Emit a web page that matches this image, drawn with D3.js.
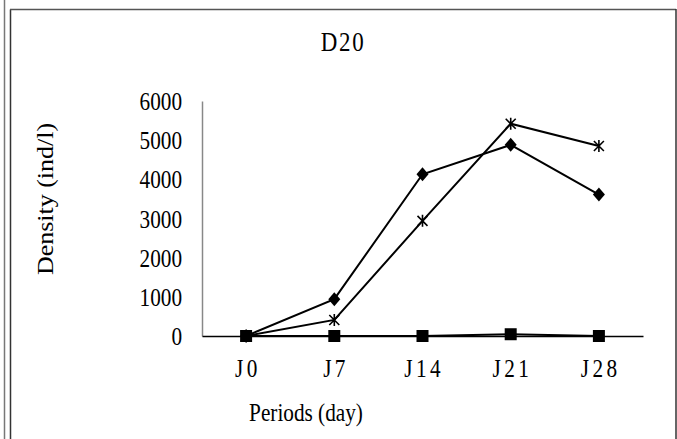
<!DOCTYPE html>
<html>
<head>
<meta charset="utf-8">
<script src="https://cdn.jsdelivr.net/npm/d3@7"></script>
<style>
  body { margin: 0; background: #fff; }
</style>
</head>
<body>
<div id="chart"></div>
<script>
const periods = ["J0", "J7", "J14", "J21", "J28"];
const diamondValues = [0, 940, 4130, 4880, 3610];
const starValues = [0, 410, 2940, 5420, 4850];
const squareValues = [0, 0, 0, 45, 0];
const yTicks = [0, 1000, 2000, 3000, 4000, 5000, 6000];

const chartWidth = 677, chartHeight = 439;
const plotLeft = 202, plotRight = 643, plotTop = 101, plotBottom = 336;
const serif = "'Liberation Serif', 'Times New Roman', 'DejaVu Serif', serif";
const squeeze = 0.85; // the source picture is narrowed horizontally

var svg = d3.select("#chart").append("svg")
    .attr("width", chartWidth)
    .attr("height", chartHeight);

// frame lines
svg.append("line").attr("x1", 4.5).attr("y1", 0).attr("x2", 4.5).attr("y2", chartHeight)
    .style("stroke", "#777").style("stroke-width", 1.5);
svg.append("line").attr("x1", 10.5).attr("y1", 9.5).attr("x2", 10.5).attr("y2", chartHeight)
    .style("stroke", "#333").style("stroke-width", 1.5);
svg.append("line").attr("x1", 10).attr("y1", 9.5).attr("x2", 676).attr("y2", 9.5)
    .style("stroke", "#555").style("stroke-width", 1.5);
svg.append("line").attr("x1", 676).attr("y1", 9).attr("x2", 676).attr("y2", chartHeight)
    .style("stroke", "#333").style("stroke-width", 1.5);

var x = d3.scaleBand().domain(periods).range([plotLeft, plotRight]).padding(0);
var y = d3.scaleLinear().domain([0, 6000]).range([plotBottom, plotTop]);
var cx = function (p) { return x(p) + x.bandwidth() / 2; };

// title
svg.append("text")
    .attr("transform", "translate(343,51) scale(" + squeeze + ",1)")
    .attr("text-anchor", "middle")
    .style("font-family", serif)
    .style("font-size", "27px")
    .style("letter-spacing", "2px")
    .text("D20");

// y axis
var yAxis = d3.axisLeft(y).tickValues(yTicks).tickSize(0).tickPadding(20).tickFormat(d3.format("d"));
var gy = svg.append("g").attr("transform", "translate(" + plotLeft + ",0)").call(yAxis);
gy.select(".domain").style("stroke", "#888").style("stroke-width", 1.5);
gy.selectAll("text")
    .attr("x", -20 / squeeze)
    .attr("dy", "0.34em")
    .attr("transform", "scale(" + squeeze + ",1)")
    .style("font-family", serif).style("font-size", "25px").style("fill", "#000");

// x axis
var xAxis = d3.axisBottom(x).tickSize(0).tickPadding(23);
var gx = svg.append("g").attr("transform", "translate(0," + plotBottom + ")").call(xAxis);
gx.select(".domain").style("stroke", "#000").style("stroke-width", 1.5);
gx.selectAll("text")
    .attr("x", 2)
    .attr("transform", "scale(" + squeeze + ",1)")
    .style("font-family", serif).style("font-size", "25px")
    .style("letter-spacing", "4px").style("fill", "#000");

// axis titles
svg.append("text")
    .attr("transform", "translate(53,199) scale(" + squeeze + ",1) rotate(-90)")
    .attr("text-anchor", "middle")
    .style("font-family", serif)
    .style("font-size", "26px")
    .text("Density (ind/l)");
svg.append("text")
    .attr("transform", "translate(306,421) scale(" + squeeze + ",1)")
    .attr("text-anchor", "middle")
    .style("font-family", serif)
    .style("font-size", "25px")
    .text("Periods (day)");

var line = d3.line()
    .x(function (d, i) { return cx(periods[i]); })
    .y(function (d) { return y(d); });

var series = [
    { values: squareValues, marker: "square" },
    { values: starValues, marker: "star" },
    { values: diamondValues, marker: "diamond" }
];

series.forEach(function (s) {
    svg.append("path")
        .datum(s.values)
        .attr("d", line)
        .style("fill", "none")
        .style("stroke", "#000")
        .style("stroke-width", 2);

    var g = svg.append("g").selectAll("g")
        .data(s.values)
        .enter().append("g")
        .attr("transform", function (d, i) { return "translate(" + cx(periods[i]) + "," + y(d) + ")"; });

    if (s.marker === "square") {
        g.append("rect").attr("x", -6).attr("y", -6).attr("width", 12).attr("height", 12).style("fill", "#000");
    } else if (s.marker === "diamond") {
        g.append("path").attr("d", "M0,-7L6,0L0,7L-6,0Z").style("fill", "#000");
    } else {
        g.append("path").attr("d", "M-5,-5L5,5M-5,5L5,-5M0,-6L0,6")
            .style("stroke", "#000").style("stroke-width", 1.6).style("fill", "none");
    }
});
</script>
</body>
</html>
